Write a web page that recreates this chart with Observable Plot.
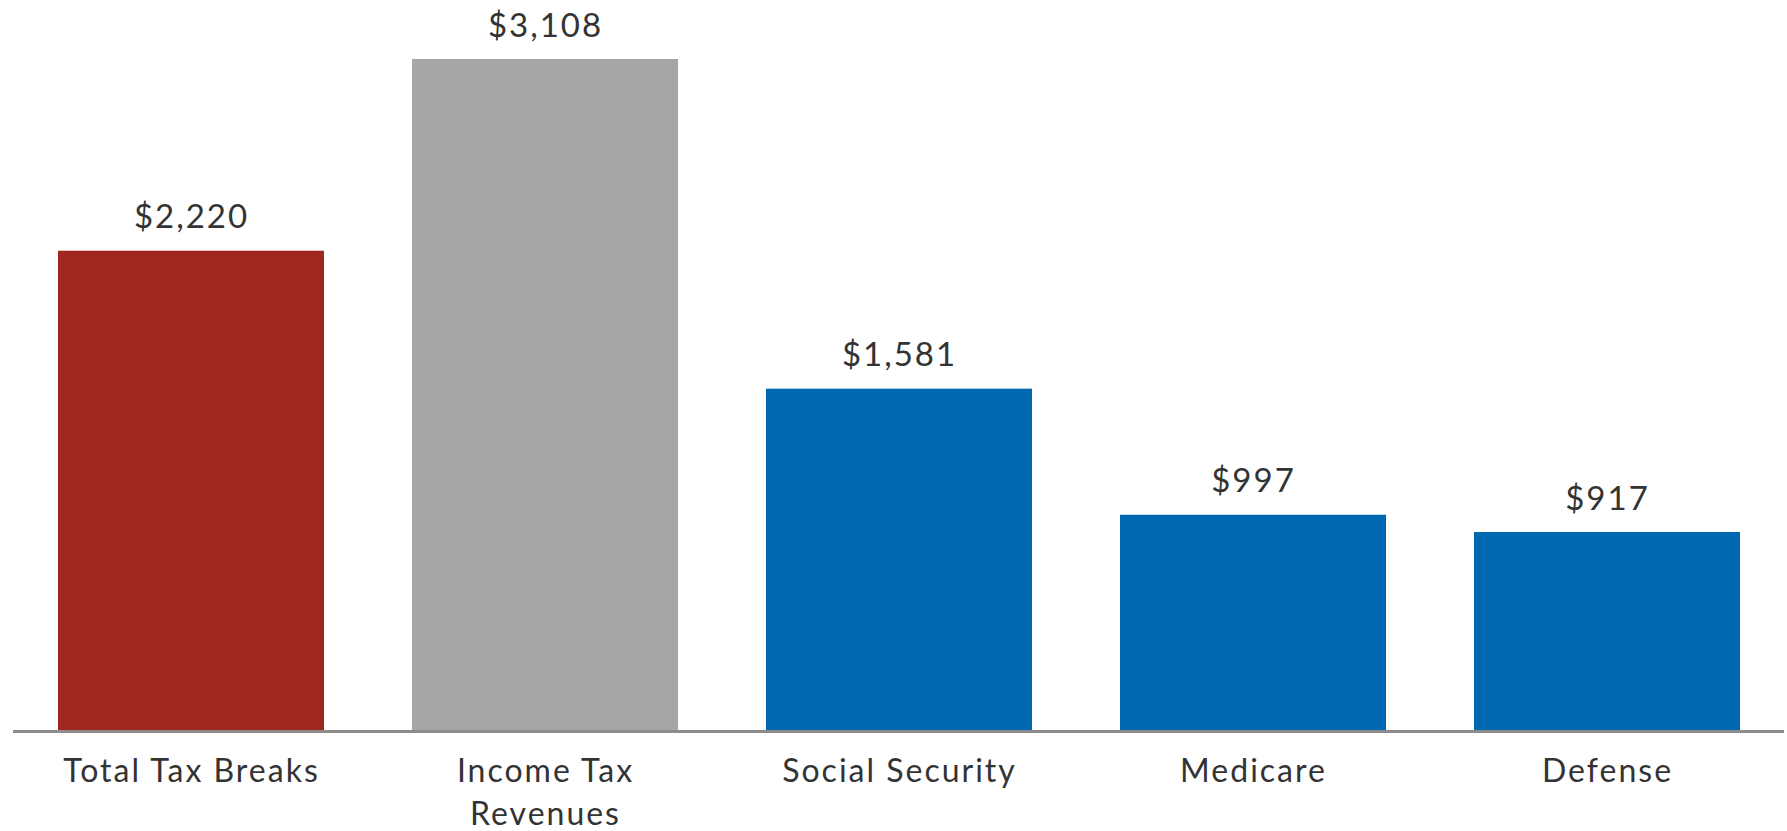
<!DOCTYPE html>
<html>
<head>
<meta charset="utf-8">
<script src="https://cdn.jsdelivr.net/npm/d3@7"></script>
<script src="https://cdn.jsdelivr.net/npm/@observablehq/plot@0.6"></script>
<style>
  html, body { margin: 0; padding: 0; background: #fff; }
  #chart svg { display: block; }
  #chart svg .vlabel text { letter-spacing: 2px; }
  #chart svg [aria-label="x-axis tick label"] text { letter-spacing: 2px; }
</style>
</head>
<body>
<div id="chart"></div>
<script>
const categories = ["Total Tax Breaks", "Income Tax Revenues", "Social Security", "Medicare", "Defense"];
const values = [2220, 3108, 1581, 997, 917];
const barColors = ["#9e2820", "#a6a6a6", "#0068b0", "#0068b0", "#0068b0"];
const tickLabels = ["Total Tax Breaks", "Income Tax\nRevenues", "Social Security", "Medicare", "Defense"];

const data = categories.map((c, i) => ({category: c, value: values[i], color: barColors[i]}));
const labelOf = new Map(categories.map((c, i) => [c, tickLabels[i]]));

const chart = Plot.plot({
  width: 1787,
  height: 831,
  marginLeft: 13,
  marginRight: 3,
  marginTop: 59,
  marginBottom: 101,
  style: {fontFamily: "Lato, sans-serif", color: "#333", background: "#fff"},
  x: {domain: categories, paddingInner: 0.25, paddingOuter: 0.125, label: null},
  y: {domain: [0, 3108], axis: null},
  marks: [
    Plot.barY(data, {x: "category", y: "value", fill: "color"}),
    Plot.ruleY([0], {stroke: "#8c8c8c", strokeWidth: 3, dy: 1}),
    Plot.text(data, {
      x: "category", y: "value",
      text: d => "$" + d3.format(",")(d.value),
      dy: -23, lineAnchor: "bottom",
      fontSize: 33, fill: "#333",
      className: "vlabel"
    }),
    Plot.axisX({
      tickSize: 0,
      tickPadding: 21,
      fontSize: 32,
      lineHeight: 1.35,
      fill: "#333",
      tickFormat: d => labelOf.get(d),
      label: null
    })
  ]
});
document.getElementById("chart").append(chart);
</script>
</body>
</html>
